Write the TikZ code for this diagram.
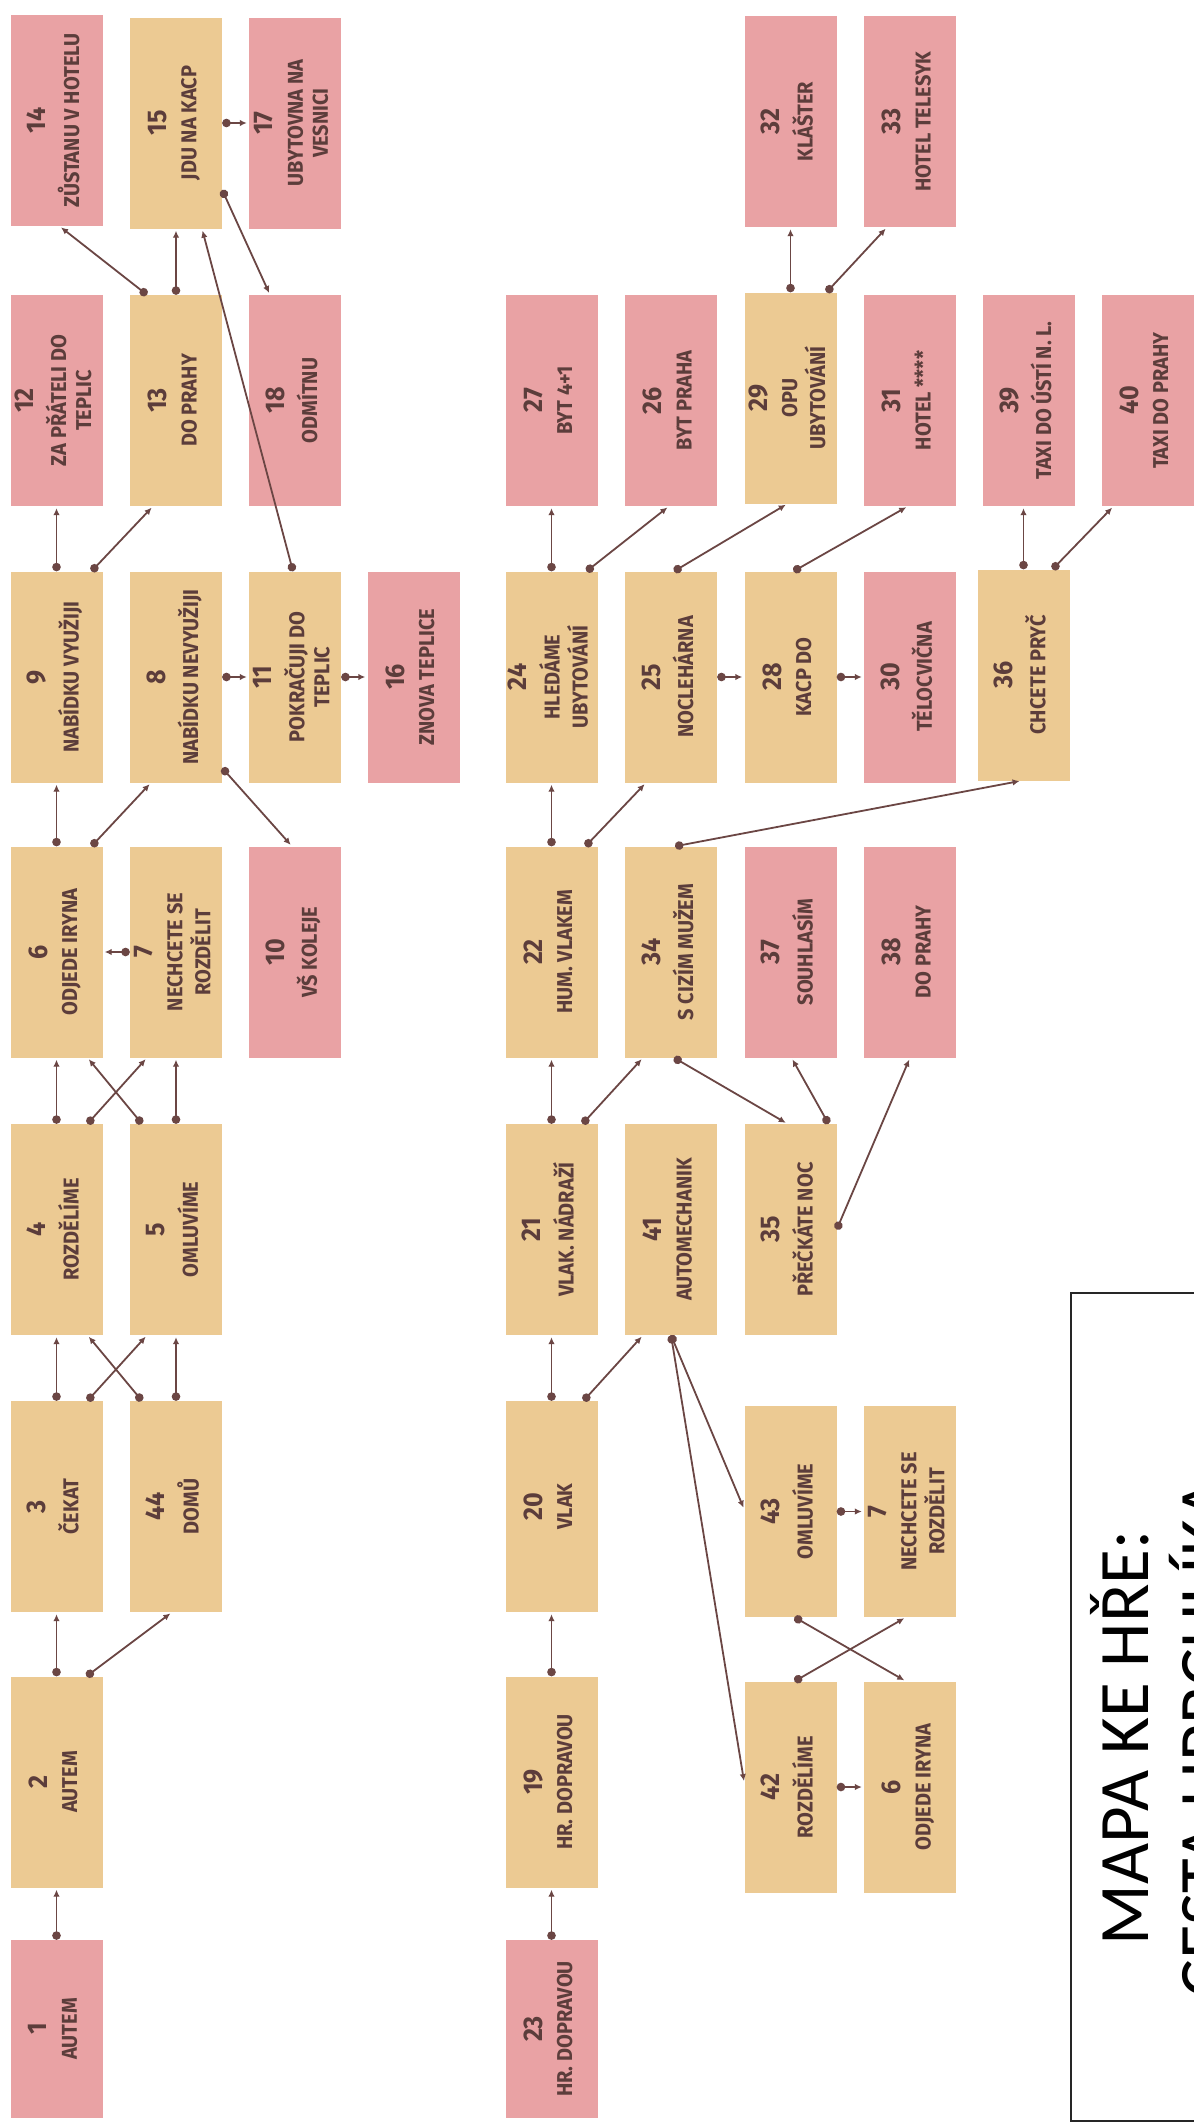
\documentclass[tikz,border=0pt]{standalone}
\usepackage{fontspec}
\usepackage{graphicx}
\usetikzlibrary{arrows.meta,calc}
\newfontfamily\boxfam{Fira Sans}[FakeStretch=0.93]
\newfontfamily\titlefam{Carlito}
\definecolor{pinkc}{HTML}{E9A2A4}
\definecolor{tanc}{HTML}{ECCA93}
\definecolor{txtc}{HTML}{5C3D3B}
\definecolor{lnc}{HTML}{6B4644}
\newcommand{\numf}{\fontsize{27}{29}\selectfont}
\newcommand{\labf}{\boxfam\bfseries\fontsize{21.5}{25}\selectfont}
\newcommand{\bxt}[2]{\rotatebox{90}{\labf\begin{tabular}{@{}c@{}}{\numf #1}\\[5pt] #2\end{tabular}}}
\tikzset{
  box/.style={minimum width=92, minimum height=211, inner sep=0pt, text=txtc},
  pinkbox/.style={box, fill=pinkc},
  tanbox/.style={box, fill=tanc},
  conn/.style={draw=lnc, line width=1.8pt, {Circle[length=8.5pt]}-{Latex[length=7pt,width=6.5pt]}, shorten >=2pt},
  titletext/.style={font=\titlefam\fontsize{71}{80}\selectfont, rotate=90, anchor=base, inner sep=0pt, text=black}
}
\begin{document}
\begin{tikzpicture}[x=1pt,y=1pt]
\fill[white] (0,0) rectangle (1194,-2126);
\useasboundingbox (0,0) rectangle (1194,-2126);

% ---------- upper diagram ----------
\node[pinkbox] (n14) at (56.5,-120.5) {\bxt{14}{ZŮSTANU V HOTELU}};
\node[tanbox]  (n15) at (176,-123) {\bxt{15}{JDU NA KACP}};
\node[pinkbox] (n17) at (295,-123) {\bxt{17}{UBYTOVNA NA\\VESNICI}};
\node[pinkbox] (n12) at (56.5,-400.5) {\bxt{12}{ZA PŘÁTELI DO\\TEPLIC}};
\node[tanbox]  (n13) at (176,-400.5) {\bxt{13}{DO PRAHY}};
\node[pinkbox] (n18) at (295,-400.5) {\bxt{18}{ODMÍTNU}};
\node[tanbox]  (n9)  at (56.5,-677) {\bxt{9}{NABÍDKU VYUŽIJI}};
\node[tanbox]  (n8)  at (176,-677) {\bxt{8}{NABÍDKU NEVYUŽIJI}};
\node[tanbox]  (n11) at (295,-677) {\bxt{11}{POKRAČUJI DO\\TEPLIC}};
\node[pinkbox] (n16) at (413.5,-677) {\bxt{16}{ZNOVA TEPLICE}};
\node[tanbox]  (n6)  at (56.5,-952) {\bxt{6}{ODJEDE IRYNA}};
\node[tanbox]  (n7)  at (176,-952) {\bxt{7}{NECHCETE SE\\ROZDĚLIT}};
\node[pinkbox] (n10) at (295,-952) {\bxt{10}{VŠ KOLEJE}};
\node[tanbox]  (n4)  at (56.5,-1229.5) {\bxt{4}{ROZDĚLÍME}};
\node[tanbox]  (n5)  at (176,-1229.5) {\bxt{5}{OMLUVÍME}};
\node[tanbox]  (n3)  at (56.5,-1506.5) {\bxt{3}{ČEKAT}};
\node[tanbox]  (n44) at (176,-1506.5) {\bxt{44}{DOMŮ}};
\node[tanbox]  (n2)  at (56.5,-1782) {\bxt{2}{AUTEM}};
\node[pinkbox, minimum height=178] (n1) at (56.5,-2029) {\bxt{1}{AUTEM}};

% ---------- lower diagram ----------
\node[pinkbox] (n32) at (790.5,-121.5) {\bxt{32}{KLÁŠTER}};
\node[pinkbox] (n33) at (910,-121.5) {\bxt{33}{HOTEL TELESYK}};
\node[pinkbox] (n27) at (551.5,-400.5) {\bxt{27}{BYT 4+1}};
\node[pinkbox] (n26) at (671,-400.5) {\bxt{26}{BYT PRAHA}};
\node[tanbox]  (n29) at (790.5,-398) {\bxt{29}{OPU\\UBYTOVÁNÍ}};
\node[pinkbox] (n31) at (910,-400.5) {\bxt{31}{HOTEL ****}};
\node[pinkbox] (n39) at (1029,-400.5) {\bxt{39}{TAXI DO ÚSTÍ N. L.}};
\node[pinkbox] (n40) at (1147.5,-400.5) {\bxt{40}{TAXI DO PRAHY}};
\node[tanbox]  (n24) at (551.5,-677) {\bxt{24}{HLEDÁME\\UBYTOVÁNÍ}};
\node[tanbox]  (n25) at (671,-677) {\bxt{25}{NOCLEHÁRNA}};
\node[tanbox]  (n28) at (790.5,-677) {\bxt{28}{KACP DO}};
\node[pinkbox] (n30) at (910,-677) {\bxt{30}{TĚLOCVIČNA}};
\node[tanbox]  (n36) at (1023.5,-675) {\bxt{36}{CHCETE PRYČ}};
\node[tanbox]  (n22) at (551.5,-952) {\bxt{22}{HUM. VLAKEM}};
\node[tanbox]  (n34) at (671,-952) {\bxt{34}{S CIZÍM MUŽEM}};
\node[pinkbox] (n37) at (790.5,-952) {\bxt{37}{SOUHLASÍM}};
\node[pinkbox] (n38) at (910,-952) {\bxt{38}{DO PRAHY}};
\node[tanbox]  (n21) at (551.5,-1229.5) {\bxt{21}{VLAK. NÁDRAŽÍ}};
\node[tanbox]  (n41) at (671,-1229.5) {\bxt{41}{AUTOMECHANIK}};
\node[tanbox]  (n35) at (790.5,-1229.5) {\bxt{35}{PŘEČKÁTE NOC}};
\node[tanbox]  (n20) at (551.5,-1506.5) {\bxt{20}{VLAK}};
\node[tanbox]  (n43) at (790.5,-1511.5) {\bxt{43}{OMLUVÍME}};
\node[tanbox]  (n7b) at (910,-1511.5) {\bxt{7}{NECHCETE SE\\ROZDĚLIT}};
\node[tanbox]  (n19) at (551.5,-1782) {\bxt{19}{HR. DOPRAVOU}};
\node[tanbox]  (n42) at (790.5,-1787) {\bxt{42}{ROZDĚLÍME}};
\node[tanbox]  (n6b) at (910,-1787) {\bxt{6}{ODJEDE IRYNA}};
\node[pinkbox, minimum height=178] (n23) at (551.5,-2029) {\bxt{23}{HR. DOPRAVOU}};

% ---------- title ----------
\node[draw=black!85, line width=1.6pt, fill=white, minimum width=240, minimum height=828, inner sep=0pt, anchor=north west] (tb) at (1070,-1292) {};
\node[titletext] (t1) at (1148,-1738) {MAPA KE HŘE:};
\node[titletext] (t2) at (1228,-1738) {CESTA UPRCHLÍKA};

% ---------- connectors: upper ----------
\draw[conn] (n1.north) -- (n2.south);
\draw[conn] (n2.north) -- (n3.south);
\draw[conn] ($(n2.north)+(30,0)$) -- ($(n44.south)+(-4,0)$);
\draw[conn] (n3.north) -- (n4.south);
\draw[conn] ($(n3.north)+(31,0)$) -- ($(n5.south)+(-29,0)$);
\draw[conn] ($(n44.north)+(-34,0)$) -- ($(n4.south)+(31,0)$);
\draw[conn] (n44.north) -- (n5.south);
\draw[conn] (n4.north) -- (n6.south);
\draw[conn] ($(n4.north)+(31,0)$) -- ($(n7.south)+(-29,0)$);
\draw[conn] ($(n5.north)+(-34,0)$) -- ($(n6.south)+(31,0)$);
\draw[conn] (n5.north) -- (n7.south);
\draw[conn] (n7.west) -- (n6.east);
\draw[conn] (n6.north) -- (n9.south);
\draw[conn] ($(n6.north)+(35,0)$) -- ($(n8.south)+(-25,0)$);
\draw[conn] ($(n8.east)+(0,-91)$) -- ($(n10.north)+(-3,0)$);
\draw[conn] (n8.east) -- (n11.west);
\draw[conn] (n11.east) -- (n16.west);
\draw[conn] (n9.north) -- (n12.south);
\draw[conn] ($(n9.north)+(35,0)$) -- ($(n13.south)+(-23,0)$);
\draw[conn] ($(n11.north)+(-2,0)$) -- ($(n15.south)+(26,0)$);
\draw[conn] ($(n13.north)+(-29,0)$) -- ($(n14.south)+(3,0)$);
\draw[conn] (n13.north) -- (n15.south);
\draw[conn] ($(n15.east)+(0,-67)$) -- ($(n18.north)+(-25,0)$);
\draw[conn] (n15.east) -- (n17.west);

% ---------- connectors: lower ----------
\draw[conn] (n23.north) -- (n19.south);
\draw[conn] (n19.north) -- (n20.south);
\draw[conn] (n20.north) -- (n21.south);
\draw[conn] ($(n20.north)+(32,0)$) -- ($(n41.south)+(-28,0)$);
\draw[conn] (n21.north) -- (n22.south);
\draw[conn] ($(n21.north)+(31,0)$) -- ($(n34.south)+(-28,0)$);
\draw[conn] (n22.north) -- (n24.south);
\draw[conn] ($(n22.north)+(34,0)$) -- ($(n25.south)+(-25,0)$);
\draw[conn] (n24.north) -- (n27.south);
\draw[conn] ($(n24.north)+(35,0)$) -- ($(n26.south)+(-2,0)$);
\draw[conn] ($(n25.north)+(3,0)$) -- ($(n29.south)+(-3,0)$);
\draw[conn] (n25.east) -- (n28.west);
\draw[conn] (n28.east) -- (n30.west);
\draw[conn] ($(n28.north)+(3,0)$) -- ($(n31.south)+(-2,0)$);
\draw[conn] (n29.north) -- (n29.north |- n32.south);
\draw[conn] ($(n29.north)+(36,0)$) -- ($(n33.south)+(-23,0)$);
\draw[conn] (n36.north) -- (n36.north |- n39.south);
\draw[conn] ($(n36.north)+(29,0)$) -- ($(n40.south)+(-34,0)$);
\draw[conn] ($(n34.north)+(4,0)$) -- ($(n36.south)+(-2,0)$);
\draw[conn] ($(n34.south)+(3,0)$) -- ($(n35.north)+(-3,0)$);
\draw[conn] ($(n35.north)+(38,0)$) -- ($(n37.south)+(1,0)$);
\draw[conn] (n35.east) -- (n38.south);
\draw[conn] (n41.south) -- ($(n43.west)+(0,2)$);
\draw[conn] (n41.south) -- ($(n42.west)+(0,4)$);
\draw[conn] (n43.east) -- (n7b.west);
\draw[conn] (n42.east) -- (n6b.west);
\draw[conn] ($(n43.south)+(4,0)$) -- ($(n6b.north)+(-4,0)$);
\draw[conn] ($(n42.north)+(4,0)$) -- ($(n7b.south)+(-4,0)$);
\end{tikzpicture}
\end{document}
